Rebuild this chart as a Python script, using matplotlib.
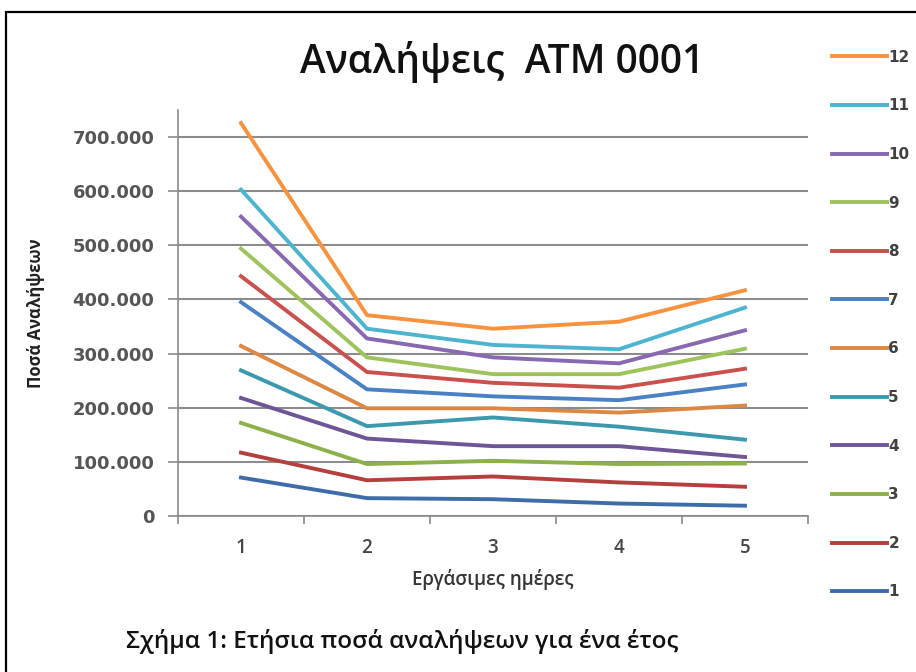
import matplotlib.pyplot as plt
from matplotlib.patches import Rectangle

# Working days and monthly withdrawal amounts per day (months 1..12)
days = [1, 2, 3, 4, 5]
month_labels = ["1", "2", "3", "4", "5", "6", "7", "8", "9", "10", "11", "12"]
m1 = [71000, 33000, 31000, 23000, 19000]
m2 = [117000, 66000, 73000, 62000, 54000]
m3 = [172000, 96000, 102000, 96000, 97000]
m4 = [218000, 143000, 129000, 129000, 109000]
m5 = [269000, 166000, 182000, 165000, 141000]
m6 = [314000, 199000, 199000, 191000, 204000]
m7 = [395000, 234000, 221000, 214000, 243000]
m8 = [443000, 266000, 246000, 237000, 272000]
m9 = [494000, 293000, 262000, 262000, 309000]
m10 = [553000, 328000, 293000, 282000, 343000]
m11 = [603000, 346000, 316000, 308000, 385000]
m12 = [726000, 371000, 346000, 359000, 417000]
series = [m1, m2, m3, m4, m5, m6, m7, m8, m9, m10, m11, m12]

colors = ["#3D6DA8", "#B3403D", "#8CB04A", "#6E5596", "#3B98AD", "#DC8743",
          "#4A80C4", "#C9504C", "#9DC35A", "#8868B0", "#4DB4CF", "#F7933F"]

fig = plt.figure(figsize=(9.16, 6.72), dpi=100)
ax = fig.add_axes([178 / 916, 1 - 516 / 672, 630 / 916, 406 / 672])

handles = []
for vals, c, lab in zip(series, colors, month_labels):
    ln, = ax.plot(days, vals, color=c, lw=2.8, solid_joinstyle="miter", label=lab)
    handles.append(ln)

ax.set_xlim(0.5, 5.5)
ax.set_ylim(0, 750000)
yt = list(range(0, 800000, 100000))
ax.set_yticks(yt)
ax.set_yticklabels(["0" if v == 0 else f"{v // 1000}.000" for v in yt],
                   fontsize=13, color="#555555", family="DejaVu Sans",
                   fontweight="bold")
ax.set_xticks([0.5, 1.5, 2.5, 3.5, 4.5, 5.5])
ax.set_xticklabels([])
ax.set_xticks(days, minor=True)
ax.set_xticklabels([str(d) for d in days], minor=True, fontsize=13.5,
                   color="#454545", family="Open Sans", fontweight="semibold")
ax.tick_params(axis="x", which="minor", length=0, pad=16)
ax.tick_params(axis="x", which="major", length=6, width=1.2, color="#8a8a8a")
ax.tick_params(axis="y", length=7, width=1.2, color="#8a8a8a", pad=10)

ax.grid(axis="y", color="#8c8c8c", lw=1.5)
ax.set_axisbelow(True)
for s in ["top", "right"]:
    ax.spines[s].set_visible(False)
for s in ["left", "bottom"]:
    ax.spines[s].set_color("#8a8a8a")
    ax.spines[s].set_linewidth(1.2)

ax.set_xlabel("Εργάσιμες ημέρες", fontsize=13.5, family="Open Sans",
              fontweight="semibold", color="#353535", labelpad=8)
ax.set_ylabel("Ποσά Αναλήψεων", fontsize=12, family="Open Sans",
              fontweight="bold", color="#202020", labelpad=20)

fig.text(502 / 916, 1 - 62 / 672, "Αναλήψεις  ATM 0001", ha="center", va="center",
         fontsize=28, family="Open Sans", fontweight="semibold", color="#111111")
fig.text(402 / 916, 1 - 641 / 672, "Σχήμα 1: Ετήσια ποσά αναλήψεων για ένα έτος",
         ha="center", va="center", fontsize=17.5, family="Open Sans",
         fontweight="semibold", color="#111111")

leg = fig.legend(handles[::-1], month_labels[::-1], loc="upper left",
                 bbox_to_anchor=(818 / 916, 1 - 36 / 672), frameon=False,
                 handlelength=3.6, handletextpad=0.1, labelspacing=2.2,
                 prop={"family": "DejaVu Sans", "weight": "bold", "size": 11})
for t in leg.get_texts():
    t.set_color("#404040")

# outer frame of the chart
fig.patches.append(Rectangle((6 / 916, -0.1), 1.2, 1.1 - 12 / 672,
                             transform=fig.transFigure, fill=False,
                             edgecolor="black", lw=1.6))

fig.savefig("out.png", dpi=100)
